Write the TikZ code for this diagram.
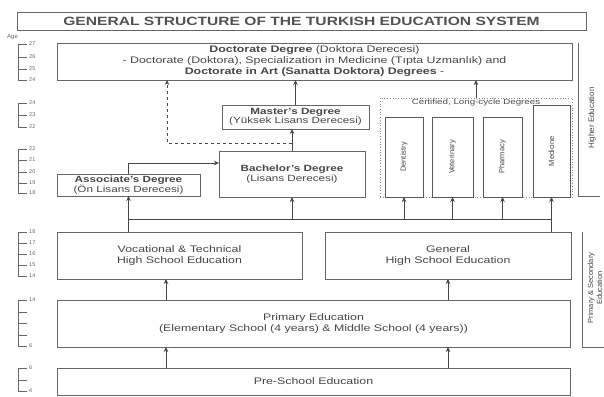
\documentclass[tikz,border=0pt]{standalone}
\usepackage{fontspec}
\setmainfont{Liberation Sans}[FakeStretch=1.3]
\newfontfamily\plainsans{Liberation Sans}
\usetikzlibrary{arrows.meta,calc}
\begin{document}
\begin{tikzpicture}[x=1pt,y=-1pt,
  box/.style={draw=black!60, line width=0.8pt, inner sep=0pt, outer sep=0pt, anchor=north west, align=center, text=black!72, font=\fontsize{9.5}{11}\selectfont},
  smallbox/.style={box, font=\fontsize{9}{9.5}\selectfont},
  vbox/.style={draw=black!65, line width=0.9pt, inner sep=0pt, outer sep=0pt, anchor=north west},
  vlabel/.style={rotate=90, text=black!72, font=\plainsans\fontsize{7.5}{8}\selectfont, inner sep=0pt},
  arr/.style={draw=black!72, line width=0.8pt, -{Stealth[length=5pt,width=4.5pt]}},
  conn/.style={draw=black!72, line width=0.8pt},
  tick/.style={draw=black!60, line width=0.5pt},
  agelab/.style={anchor=west, inner sep=0pt, text=black!60, font=\plainsans\fontsize{5.5}{5.5}\selectfont},
  sidelab/.style={rotate=90, align=center, text=black!72, font=\plainsans\fontsize{7.5}{9}\selectfont, inner sep=0pt}]
\useasboundingbox (0,0) rectangle (604,396);
\fill[white] (0,0) rectangle (604,396);

% title
\node[box, minimum width=569pt, minimum height=18pt, font=\fontsize{12}{12}\bfseries, text=black!68] (title) at (17,12) {GENERAL STRUCTURE OF THE TURKISH EDUCATION SYSTEM};

% higher education boxes
\node[box, minimum width=515pt, minimum height=37pt] (doc) at (57,43)
  {\textbf{Doctorate Degree} (Doktora Derecesi)\\
   - Doctorate (Doktora), Specialization in Medicine (Tıpta Uzmanlık) and\\
   \textbf{Doctorate in Art (Sanatta Doktora) Degrees} -};
\node[smallbox, minimum width=147pt, minimum height=24pt] (master) at (222,105)
  {\textbf{Master's Degree}\\(Yüksek Lisans Derecesi)};
\node[smallbox, minimum width=146pt, minimum height=46pt] (bach) at (219,151)
  {\textbf{Bachelor's Degree}\\(Lisans Derecesi)};
\node[smallbox, minimum width=143pt, minimum height=22pt] (assoc) at (57,174)
  {\textbf{Associate's Degree}\\(Ön Lisans Derecesi)};

% long-cycle group
\node[draw=black!45, dotted, line width=0.7pt, inner sep=0pt, outer sep=0pt, anchor=north west, minimum width=192pt, minimum height=99pt] (cert) at (380,98) {};
\node[text=black!70, font=\fontsize{7.5}{8}\selectfont, inner sep=0pt] (certlab) at (476,102.5) {Certified, Long-cycle Degrees};
\node[vbox, minimum width=38pt, minimum height=80pt] (dent) at (385,117) {};
\node[vbox, minimum width=41pt, minimum height=80pt] (vet) at (432,117) {};
\node[vbox, minimum width=39pt, minimum height=80pt] (pharm) at (483,117) {};
\node[vbox, minimum width=37pt, minimum height=92pt] (med) at (533,105) {};
\node[vlabel] (dentl) at (dent.center) {Dentistry};
\node[vlabel] (vetl) at (vet.center) {Veterinary};
\node[vlabel] (pharml) at (pharm.center) {Pharmacy};
\node[vlabel] (medl) at (med.center) {Medicine};

% secondary, primary, pre-school
\node[box, minimum width=245pt, minimum height=47pt] (voc) at (57,232)
  {Vocational \& Technical\\High School Education};
\node[box, minimum width=246pt, minimum height=47pt] (gen) at (325,232)
  {General\\High School Education};
\node[box, minimum width=513pt, minimum height=47pt] (prim) at (57,300)
  {Primary Education\\(Elementary School (4 years) \& Middle School (4 years))};
\node[box, minimum width=513pt, minimum height=27pt] (pre) at (57,368)
  {Pre-School Education};

% connectors
\coordinate (hL) at (128.5,219);
\coordinate (hR) at (551.5,219);
\coordinate (pA) at (166,0);
\coordinate (dcol) at (167,143);
\draw[arr] (assoc.south |- voc.north) -- (assoc.south);
\draw[arr] (med.south |- gen.north) -- (med.south);
\draw[conn] (hL) -- (hR);
\draw[arr] (bach.south |- hL) -- (bach.south);
\draw[arr] (dent.south |- hL) -- (dent.south);
\draw[arr] (vet.south |- hL) -- (vet.south);
\draw[arr] (pharm.south |- hL) -- (pharm.south);
\draw[arr] (assoc.north) |- ([yshift=11pt]bach.west);
\draw[arr] (bach.north) -- (bach.north |- master.south);
\draw[arr] (master.north) -- (master.north |- doc.south);
\draw[arr] (cert.north) -- (cert.north |- doc.south);
\draw[arr, dashed] (bach.north |- dcol) -- (dcol) -- (dcol |- doc.south);
\draw[arr] (prim.north -| pA) -- (voc.south -| pA);
\draw[arr] (prim.north -| gen.south) -- (gen.south);
\draw[arr] (pre.north -| pA) -- (prim.south -| pA);
\draw[arr] (pre.north -| gen.south) -- (prim.south -| gen.south);

% side brackets
\draw[tick, line width=0.7pt] (578,43) -- (578,196) -- (600,196);
\node[sidelab, font=\plainsans\fontsize{8}{9}\selectfont] (hilab) at (592,118) {Higher Education};
\draw[tick, line width=0.7pt] (582,232) -- (582,347) -- (604,347);
\node[sidelab] (pslab) at (595,288) {Primary \& Secondary\\Education};

% age axis
\node[agelab, font=\plainsans\fontsize{6}{6}\selectfont] (agehead) at (7,37) {Age};
\draw[tick] (18,44) -- (18,80);
\draw[tick] (18,103) -- (18,127);
\draw[tick] (18,149) -- (18,193);
\draw[tick] (18,232) -- (18,276);
\draw[tick] (18,300) -- (18,346);
\draw[tick] (18,368) -- (18,391);
\foreach \yy/\tt in {44/27,57/26,69/25,80/24,103/24,115/23,127/22,149/22,160/21,172/20,183/19,193/18,232/18,243/17,254/16,265/15,276/14,300/14,346/6,368/6,391/4}{
  \draw[tick] (18,\yy) -- (27,\yy);
  \node[agelab] (age\yy) at (29,\yy) {\tt};
}
\foreach \yy in {312,323,335,380}{
  \draw[tick] (18,\yy) -- (27,\yy);
}
\end{tikzpicture}
\end{document}
